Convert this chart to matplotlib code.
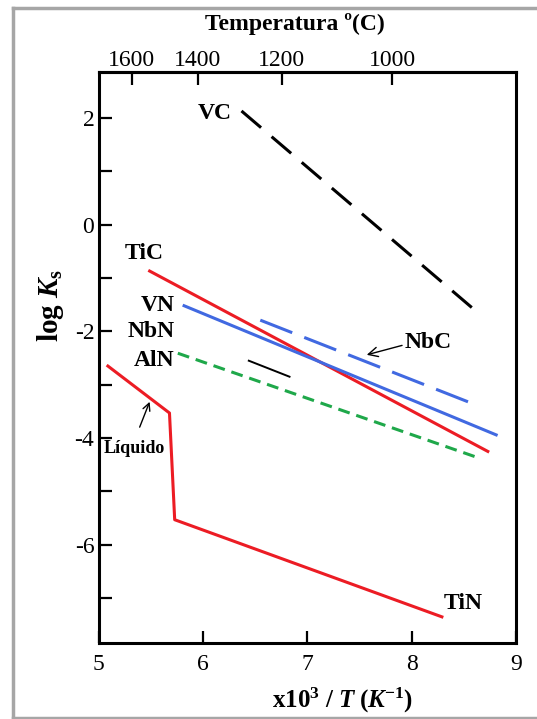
import numpy as np
import matplotlib.pyplot as plt
from matplotlib.lines import Line2D

plt.rcParams['font.family'] = ['Liberation Serif', 'DejaVu Serif']
plt.rcParams['mathtext.fontset'] = 'custom'
plt.rcParams['mathtext.rm'] = 'Liberation Serif'
plt.rcParams['mathtext.it'] = 'Liberation Serif:italic'
plt.rcParams['mathtext.bf'] = 'Liberation Serif:bold'
plt.rcParams['mathtext.bfit'] = 'Liberation Serif:italic:bold'
plt.rcParams['lines.scale_dashes'] = False
plt.rcParams['axes.unicode_minus'] = False

# solubility products, x = 10^4/T (K^-1), y = log Ks
vc_x = [6.37, 8.64]
vc_y = [2.13, -1.66]
tic_x = [5.49, 8.73]
tic_y = [-0.87, -4.25]
vn_x = [5.82, 8.81]
vn_y = [-1.52, -3.94]
nbc_x = [6.55, 8.54]
nbc_y = [-1.79, -3.32]
aln_x = [5.76, 8.61]
aln_y = [-2.41, -4.35]
nbn_x = [6.44, 6.83]
nbn_y = [-2.55, -2.85]
tin_x = [5.09, 5.68, 5.73, 8.29]
tin_y = [-2.65, -3.53, -5.53, -7.35]

temp_ticks = [1600, 1400, 1200, 1000]
x_ticks = [5, 6, 7, 8, 9]
y_ticks = [-6, -4, -2, 0, 2]

W, H = 537, 719
fig = plt.figure(figsize=(W / 100, H / 100), dpi=100)
ax = fig.add_axes([98.5 / W, 1 - 643 / H, 417.5 / W, 571 / H])

red = '#ec1c24'
blue = '#4169e1'
green = '#1fa84a'

ax.plot(vc_x, vc_y, color='black', lw=2.2, dashes=(18.5, 10))
ax.plot(tic_x, tic_y, color=red, lw=2.2)
ax.plot(vn_x, vn_y, color=blue, lw=2.2)
ax.plot(nbc_x, nbc_y, color=blue, lw=2.2, dashes=(24.7, 9.3))
ax.plot(aln_x, aln_y, color=green, lw=2.2, dashes=(8.6, 5))
ax.plot(nbn_x, nbn_y, color='black', lw=1.4)
ax.plot(tin_x, tin_y, color=red, lw=2.2)

lab = dict(fontsize=17, fontweight='bold', va='center')
ax.text(6.11, 2.09, 'VC', ha='center', **lab)
ax.text(5.44, -0.54, 'TiC', ha='center', **lab)
ax.text(5.73, -1.51, 'VN', ha='right', **lab)
ax.text(5.73, -2.00, 'NbN', ha='right', **lab)
ax.text(5.73, -2.54, 'AlN', ha='right', **lab)
ax.text(8.49, -7.10, 'TiN', ha='center', **lab)
ax.annotate('NbC', xy=(7.57, -2.44), xytext=(7.935, -2.21), ha='left', **lab,
            arrowprops=dict(arrowstyle='->', color='black', lw=1, shrinkA=0, shrinkB=0,
                            relpos=(0, 0.4)))
ax.annotate('Líquido', xy=(5.49, -3.32), xytext=(5.345, -4.2), ha='center',
            fontsize=13, fontweight='bold', va='center',
            arrowprops=dict(arrowstyle='->', color='black', lw=1, shrinkA=8, shrinkB=0,
                            relpos=(0.5, 1)))

ax.set_xlim(5, 9)
ax.set_ylim(-7.84, 2.86)
ax.set_xticks(x_ticks)
ax.set_yticks(y_ticks)
ax.set_yticks([-7, -5, -3, -1, 1], minor=True)
for s in ax.spines.values():
    s.set_linewidth(2.2)
ax.tick_params(axis='both', which='both', direction='in', length=9, width=1.6,
               labelsize=17, top=False, right=False)
ax.tick_params(axis='x', pad=8)
ax.tick_params(axis='y', pad=3)

# top scale in degrees C (offset)
top = ax.secondary_xaxis('top', functions=(lambda x: 1e4 / np.asarray(x, float) - 280,
                                           lambda t: 1e4 / (np.asarray(t, float) + 280)))
top.set_xticks(temp_ticks)
top.tick_params(direction='in', length=9, width=1.6, labelsize=17, pad=1)
top.spines['top'].set_linewidth(2.2)

fig.text(295 / W, 1 - 24 / H, 'Temperatura º(C)', fontsize=17, fontweight='bold',
         ha='center', va='center')
fig.text(342.5 / W, 1 - 700 / H,
         r'$\mathbf{x10^3\ /\ }\mathbfit{T}\ \mathbf{(}\mathbfit{K}^{\mathbf{-1}}\mathbf{)}$',
         fontsize=18, ha='center', va='center')
fig.text(50 / W, 1 - 305 / H, r'$\mathbf{log}\ \mathbfit{K}_{\mathbf{s}}$',
         fontsize=21, rotation=90, ha='center', va='center')

# grey frame around the figure
frame = dict(color='#a6a6a6', lw=2.5, transform=fig.transFigure)
fig.add_artist(Line2D([12.5 / W, 12.5 / W], [1 - 7.5 / H, 1 - 717.5 / H], **frame))
fig.add_artist(Line2D([12.5 / W, 1], [1 - 7.5 / H, 1 - 7.5 / H], **frame))
fig.add_artist(Line2D([12.5 / W, 1], [1 - 717.5 / H, 1 - 717.5 / H], **frame))

fig.savefig('out.png', dpi=100)
